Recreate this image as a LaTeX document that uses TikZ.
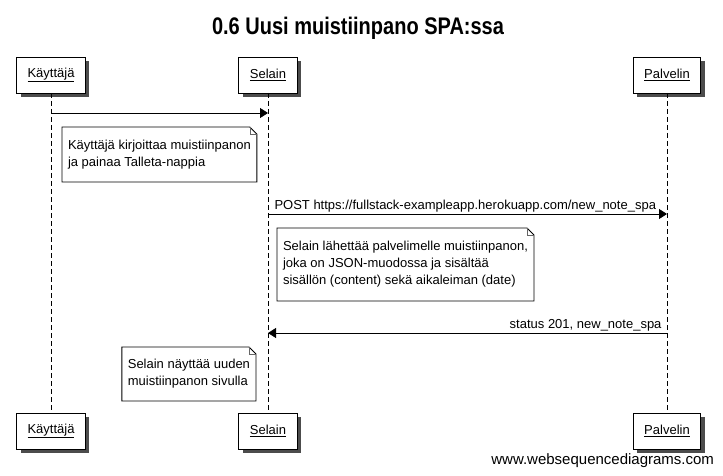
\documentclass[tikz,border=0pt]{standalone}
\usepackage{fontspec}
\setmainfont{Liberation Sans}
\usetikzlibrary{arrows.meta,calc,backgrounds}
\begin{document}
\begin{tikzpicture}[x=1pt,y=-1pt,
  every node/.style={inner sep=0pt, outer sep=0pt},
  actor/.style={draw=black, line width=0.9pt, fill=white, minimum height=36pt,
    inner xsep=11pt, font=\fontsize{13}{15}\selectfont},
  boxshadow/.style={fill=black!70, draw=none},
  lifeline/.style={line width=0.7pt, dash pattern=on 5pt off 3pt},
  msg/.style={line width=0.9pt, -{Triangle[length=8pt,width=10pt]}},
  note/.style={fill=white, align=left, inner xsep=6pt, font=\fontsize{13}{17}\selectfont},
  noteline/.style={line width=0.9pt},
  lbl/.style={font=\fontsize{13}{15}\selectfont},
]
\useasboundingbox (0,0) rectangle (723,476);

% title
\node[font=\bfseries\fontsize{20}{24}\selectfont, anchor=base] (title) at (358,34.3)
  {\scalebox{1}[1.2]{0.6 Uusi muistiinpano SPA:ssa}};

% participants
\node[actor] (k1) at (51,75) {\underline{Käyttäjä}};
\node[actor] (s1) at (268,75) {\underline{Selain}};
\node[actor] (p1) at (667,75) {\underline{Palvelin}};
\node[actor] (k2) at (51,431) {\underline{Käyttäjä}};
\node[actor] (s2) at (268,431) {\underline{Selain}};
\node[actor] (p2) at (667,431) {\underline{Palvelin}};

% shadows behind the participant boxes
\begin{scope}[on background layer]
\foreach \a in {k1,s1,p1,k2,s2,p2}{
  \fill[boxshadow] ($(\a.north west)+(4,4)$) rectangle ($(\a.south east)+(4,4)$);
}
\end{scope}

% lifelines
\draw[lifeline] (k1.south) -- (k2.north);
\draw[lifeline] (s1.south) -- (s2.north);
\draw[lifeline] (p1.south) -- (p2.north);

% message rows
\coordinate (y1) at (0,113);
\coordinate (y2) at (0,214);
\coordinate (y3) at (0,333);

\draw[msg] (k1.south |- y1) -- (s1.south |- y1);

\draw[msg] (s1.south |- y2) -- (p1.south |- y2);
\node[lbl, anchor=base west] (l2) at ($(s1.south |- y2)+(6.5,-5)$)
  {POST https://fullstack-exampleapp.herokuapp.com/new\_note\_spa};

\draw[msg] (p1.south |- y3) -- (s1.south |- y3);
\node[lbl, anchor=base east] (l3) at ($(p1.south |- y3)+(-5.5,-5)$)
  {status 201, new\_note\_spa};

% notes
\node[note, anchor=north west, minimum height=55pt] (n1) at (62,127)
  {Käyttäjä kirjoittaa muistiinpanon\\ja painaa Talleta-nappia};
\node[note, anchor=north west, minimum height=73pt] (n2) at (277,228)
  {Selain lähettää palvelimelle muistiinpanon,\\joka on JSON-muodossa ja sisältää\\sisällön (content) sekä aikaleiman (date)};
\node[note, anchor=north east, minimum height=54pt] (n3) at (256,347)
  {Selain näyttää uuden\\muistiinpanon sivulla};

\foreach \n in {n1,n2,n3}{
  \draw[noteline] (\n.north west) -- ($(\n.north east)+(-7,0)$) -- ($(\n.north east)+(0,7)$)
    -- (\n.south east) -- (\n.south west) -- cycle;
  \draw[line width=0.6pt, black!60] ($(\n.north east)+(-7,0)$) -- ($(\n.north east)+(-7,7)$)
    -- ($(\n.north east)+(0,7)$);
}

% footer
\node[font=\fontsize{15}{18}\selectfont, anchor=base east] (footer) at (714,464.3)
  {www.websequencediagrams.com};
\end{tikzpicture}
\end{document}
